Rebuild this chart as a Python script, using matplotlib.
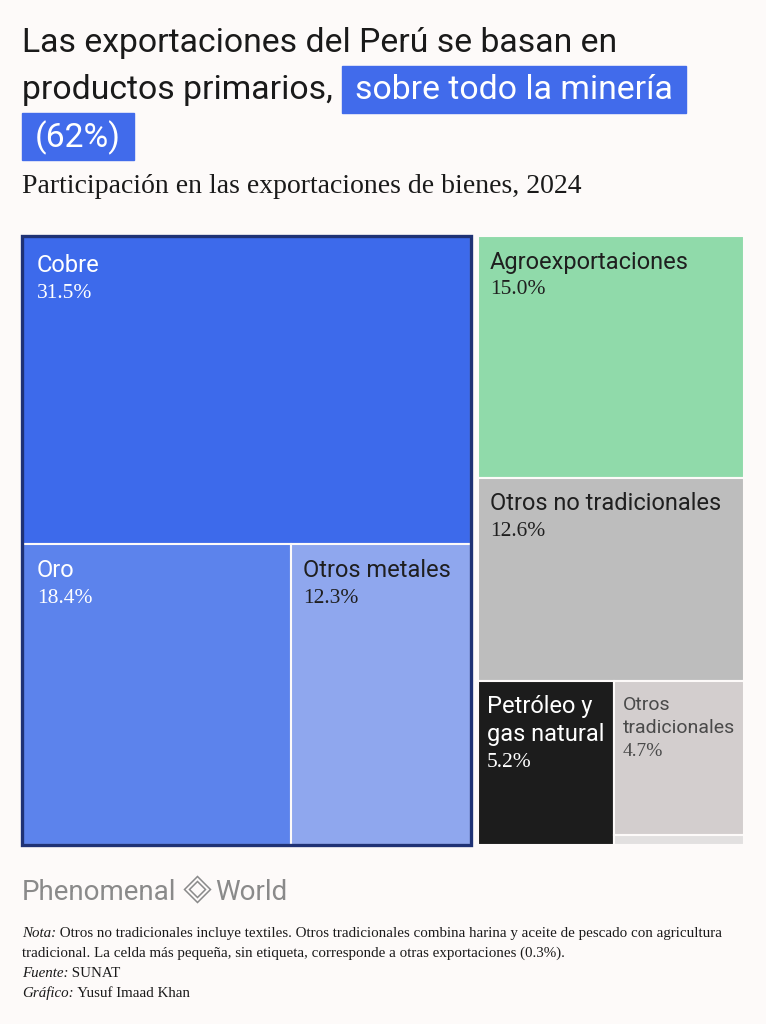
import matplotlib
matplotlib.use("Agg")
import matplotlib.pyplot as plt
from matplotlib.patches import Rectangle, Polygon

# ---- data ----
categories = ["Cobre", "Oro", "Otros metales", "Agroexportaciones",
              "Otros no tradicionales", "Petróleo y\ngas natural",
              "Otros\ntradicionales", "Otras exportaciones"]
shares = [31.5, 18.4, 12.3, 15.0, 12.6, 5.2, 4.7, 0.3]
show_label = [True, True, True, True, True, True, True, False]
colors = ["#3D6AEB", "#5C83EC", "#8FA7EE", "#90DAAA", "#BDBDBD",
          "#1C1C1C", "#D3CECE", "#E2E0E0"]
text_colors = ["white", "white", "#1f1f1f", "#1f1f1f", "#1f1f1f",
               "white", "#4a4a4a", "#4a4a4a"]

BG = "#FDFAF9"
NAVY = "#1F3275"
INK = "#1a1a1a"
SANS = "Roboto"
SERIF = "Liberation Serif"

W, H = 766, 1024
fig = plt.figure(figsize=(W / 100, H / 100), dpi=100, facecolor=BG)
renderer = fig.canvas.get_renderer()


def fx(x):
    return x / W


def fy(y):
    return 1 - y / H


def text_px(x, y, s, **kw):
    return fig.text(fx(x), fy(y), s, va="baseline", ha="left", **kw)


def right_px(t):
    return t.get_window_extent(renderer).x1


# ---- title with highlighted phrase ----
tsize = 24.3
text_px(22, 52, "Las exportaciones del Perú se basan en", family=SANS,
        fontsize=tsize, color=INK)
t2 = text_px(22, 99, "productos primarios,", family=SANS, fontsize=tsize,
             color=INK)
bx0 = right_px(t2) + 9
hl = text_px(bx0 + 13, 99, "sobre todo la minería", family=SANS,
             fontsize=tsize, color="white", zorder=3)
bx1 = right_px(hl) + 13
fig.patches.append(Rectangle((fx(bx0), fy(113)), fx(bx1 - bx0), 47 / H,
                             transform=fig.transFigure, color="#416BEB",
                             zorder=2))
hl3 = text_px(35, 147, "(62%)", family=SANS, fontsize=tsize, color="white",
              zorder=3)
bx3 = right_px(hl3) + 13
fig.patches.append(Rectangle((fx(22), fy(160)), fx(bx3 - 22), 47 / H,
                             transform=fig.transFigure, color="#416BEB",
                             zorder=2))

text_px(22, 193, "Participación en las exportaciones de bienes, 2024",
        family=SERIF, fontsize=20, color=INK)

# ---- treemap layout (squarified by hand: mining block | rest) ----
ax_l, ax_t, ax_r, ax_b = 22, 236, 744, 845
ax = fig.add_axes([fx(ax_l), fy(ax_b), fx(ax_r - ax_l), (ax_b - ax_t) / H])
ax.set_xlim(0, 1)
ax.set_ylim(1, 0)
ax.axis("off")
pxw = 1 / (ax_r - ax_l)

total = sum(shares)
cob, oro, omet, agro, ont, pet, otr, oex = shares
mining = cob + oro + omet
wm = mining / total
gap = 7 * pxw
rx = wm + gap
rw = 1 - rx
rest = total - mining

h_cob = cob / mining
w_oro = wm * oro / (oro + omet)
h_agro = agro / rest
h_ont = ont / rest
y_bot = h_agro + h_ont
w_pet = rw * pet / (pet + otr + oex)
h_otr = (1 - y_bot) * otr / (otr + oex)

cells = [
    (0, 0, wm, h_cob),
    (0, h_cob, w_oro, 1 - h_cob),
    (w_oro, h_cob, wm - w_oro, 1 - h_cob),
    (rx, 0, rw, h_agro),
    (rx, h_agro, rw, h_ont),
    (rx, y_bot, w_pet, 1 - y_bot),
    (rx + w_pet, y_bot, rw - w_pet, h_otr),
    (rx + w_pet, y_bot + h_otr, rw - w_pet, 1 - y_bot - h_otr),
]

for (x, y, w, h), c in zip(cells, colors):
    ax.add_patch(Rectangle((x, y), w, h, facecolor=c, edgecolor=BG,
                           linewidth=1.5))
ax.add_patch(Rectangle((0, 0), wm, 1, fill=False, edgecolor=NAVY,
                       linewidth=2.4, clip_on=False, zorder=4))

for (x, y, w, h), name, val, show, tc in zip(cells, categories, shares,
                                              show_label, text_colors):
    if not show:
        continue
    wpx = w / pxw
    small = wpx < 150
    padx = 9 if small else 12
    if x == 0:
        padx += 3
    pady = 26 + (3 if y == 0 and x == 0 else 0) - (2 if small and tc != "white" else 0)
    fs = 14 if (small and tc != "white") else 17
    step = 23.5 if fs == 14 else 28
    pfs = 14 if fs == 14 else fs - 1.5
    nlines = name.count("\n") + 1
    for i, line in enumerate(name.split("\n")):
        ax.annotate(line, (x, y), xytext=(padx * 0.72, -(pady + i * step) * 0.72),
                    textcoords="offset points", va="center", ha="left",
                    family=SANS, fontsize=fs, color=tc, zorder=5)
    ax.annotate(f"{val:.1f}%", (x, y),
                xytext=(padx * 0.72, -(pady + nlines * step) * 0.72),
                textcoords="offset points", va="center", ha="left",
                family=SERIF, fontsize=pfs, color=tc, zorder=5)

# ---- logo ----
GREY = "#8a8a8a"
lg = text_px(22, 900, "Phenomenal", family=SANS, fontsize=20, color=GREY)
dx = right_px(lg) + 8
cx, cy, r = dx + 13, 889.5, 13
for rr in (r, r - 5):
    fig.patches.append(Polygon([(fx(cx), fy(cy - rr)), (fx(cx + rr), fy(cy)),
                                (fx(cx), fy(cy + rr)), (fx(cx - rr), fy(cy))],
                               closed=True, fill=False, edgecolor=GREY,
                               linewidth=1.1, transform=fig.transFigure))
text_px(cx + r + 5, 900, "World", family=SANS, fontsize=20, color=GREY)

# ---- notes ----
notes = [
    [("Nota:", "italic"), (" Otros no tradicionales incluye textiles. Otros tradicionales combina harina y aceite de pescado con agricultura", "normal")],
    [("tradicional. La celda más pequeña, sin etiqueta, corresponde a otras exportaciones (0.3%).", "normal")],
    [("Fuente:", "italic"), (" SUNAT", "normal")],
    [("Gráfico:", "italic"), (" Yusuf Imaad Khan", "normal")],
]
for k, parts in enumerate(notes):
    x = 22
    for s, style in parts:
        t = text_px(x, 937 + k * 20, s, family=SERIF, fontsize=10.8,
                    style=style, color=INK)
        x = right_px(t)

fig.savefig("out.png", dpi=100, facecolor=BG)
